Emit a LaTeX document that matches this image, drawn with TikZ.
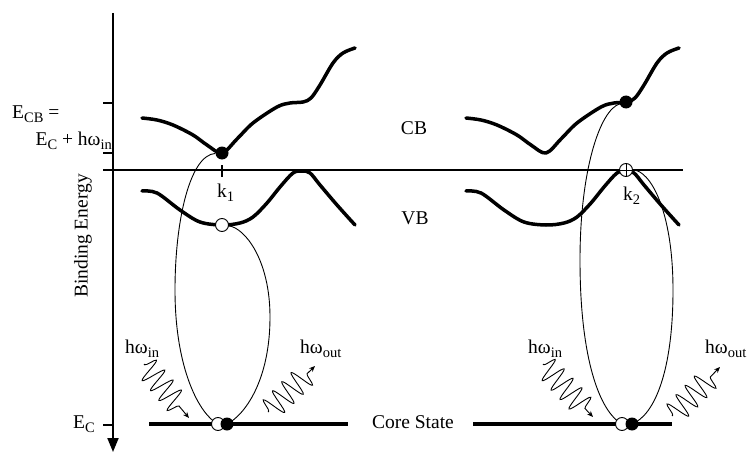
\documentclass[tikz,border=0pt]{standalone}
\usepackage{fontspec}
\setmainfont{Liberation Serif}
\usetikzlibrary{arrows.meta,decorations.pathmorphing}

\newcommand{\bandcurves}{%
  \draw[band] plot[smooth,tension=0.55] coordinates {(142,118) (157,120) (173,125) (193,135) (207,145) (222,153) (237,139) (253,123) (277,107) (290,103) (303,102) (311,98) (320,85) (333,63) (343,53) (355,48)};
  \draw[band] plot[smooth,tension=0.55] coordinates {(142,191) (157,193) (180,210) (200,222) (222,225) (240,223) (253,217) (267,203) (280,187) (293,173) (302,171) (310,173) (320,185) (337,205) (355,225)};
}
\newcommand{\sbx}[1]{\raisebox{-0.22em}{\fontsize{14.5}{16}\selectfont #1}}

\begin{document}
\begin{tikzpicture}[x=1pt,y=-1pt,
  font=\fontsize{19.5}{21}\selectfont,
  band/.style={line width=3.5pt,line cap=round,line join=round},
  loopline/.style={line width=0.9pt},
  coreline/.style={line width=3.5pt},
  tickline/.style={line width=1.2pt},
  fdot/.style={circle,fill=black,minimum size=13pt,inner sep=0pt},
  odot/.style={circle,draw,fill=white,line width=0.9pt,minimum size=13pt,inner sep=0pt},
  pdot/.style={odot,path picture={\draw[line width=0.9pt] (path picture bounding box.north) -- (path picture bounding box.south) (path picture bounding box.west) -- (path picture bounding box.east);}},
  wave/.style={line width=0.9pt,decorate,decoration={snake,amplitude=12pt,segment length=13pt,pre length=1pt,post length=10pt},-{Stealth[length=6pt,width=5pt]}},
  lbl/.style={inner sep=0pt}
]
\useasboundingbox (0,0) rectangle (750,452);

% axis
\coordinate (axtop) at (113,13);
\coordinate (axbot) at (113,452);
\draw[line width=2pt,-{Triangle[length=14pt,width=11pt]}] (axtop) -- (axbot);
\draw[tickline] (103,103) -- (113,103);
\draw[tickline] (103,153) -- (113,153);
\draw[tickline] (103,425) -- (113,425);
\draw[line width=1.3pt] (103,170) -- (683,170);
\draw[tickline] (222,165) -- (222,177);

% bands
\bandcurves
\begin{scope}[xshift=324pt]
  \bandcurves
\end{scope}

% core lines
\draw[coreline] (149,424) -- (348,424);
\draw[coreline] (473,424) -- (672,424);

% dots
\node[fdot] (cb1) at (222,153) {};
\node[odot] (vb1) at (222,225) {};
\node[fdot] (cb2) at (626,102) {};
\node[pdot] (vb2) at (626,170) {};

% loops left
\draw[loopline] (cb1) .. controls (190,155) and (175,220) .. (175,290) .. controls (175,370) and (200,415) .. (218,424);
\draw[loopline] (vb1) .. controls (245,228) and (270,260) .. (270,317) .. controls (270,380) and (245,415) .. (227,424);
% loops right
\draw[loopline] (cb2) .. controls (600,110) and (580,170) .. (580,260) .. controls (580,360) and (600,412) .. (622,424);
\draw[loopline] (vb2) .. controls (650,170) and (673,210) .. (673,290) .. controls (673,370) and (655,415) .. (632,424);

% core dots
\node[odot] (coreoL) at (218,424) {};
\node[fdot] (corefL) at (227,424) {};
\node[odot] (coreoR) at (622,424) {};
\node[fdot] (corefR) at (632,424) {};

% waves
\coordinate (wiLs) at (144,364);
\coordinate (wiLe) at (189,418);
\coordinate (woLs) at (268,412);
\coordinate (woLe) at (315,366);
\coordinate (wiRs) at (543,364);
\coordinate (wiRe) at (593,417);
\coordinate (woRs) at (672,416);
\coordinate (woRe) at (720,367);
\draw[wave] (wiLs) -- (wiLe);
\draw[wave] (woLs) -- (woLe);
\draw[wave] (wiRs) -- (wiRe);
\draw[wave] (woRs) -- (woRe);

% labels
\node[lbl,anchor=base west] (ecb) at (12,118) {E\sbx{CB} =};
\node[lbl,anchor=base east] (ecbb) at (112,145) {E\sbx{C} + hω\sbx{in}};
\node[lbl,rotate=90] (be) at (83,236) {Binding Energy};
\node[lbl,anchor=base west] (ec) at (73,428) {E\sbx{C}};
\node[lbl] (cbl) at (414,128) {CB};
\node[lbl] (vbl) at (415,218) {VB};
\node[lbl] (cs) at (413,422) {Core State};
\node[lbl,anchor=base west] (k1) at (217,197) {k\sbx{1}};
\node[lbl,anchor=base west] (k2) at (623,200) {k\sbx{2}};
\node[lbl,anchor=base west] (hiL) at (125,353) {hω\sbx{in}};
\node[lbl,anchor=base west] (hoL) at (300,353) {hω\sbx{out}};
\node[lbl,anchor=base west] (hiR) at (528,353) {hω\sbx{in}};
\node[lbl,anchor=base west] (hoR) at (705,353) {hω\sbx{out}};
\end{tikzpicture}
\end{document}
